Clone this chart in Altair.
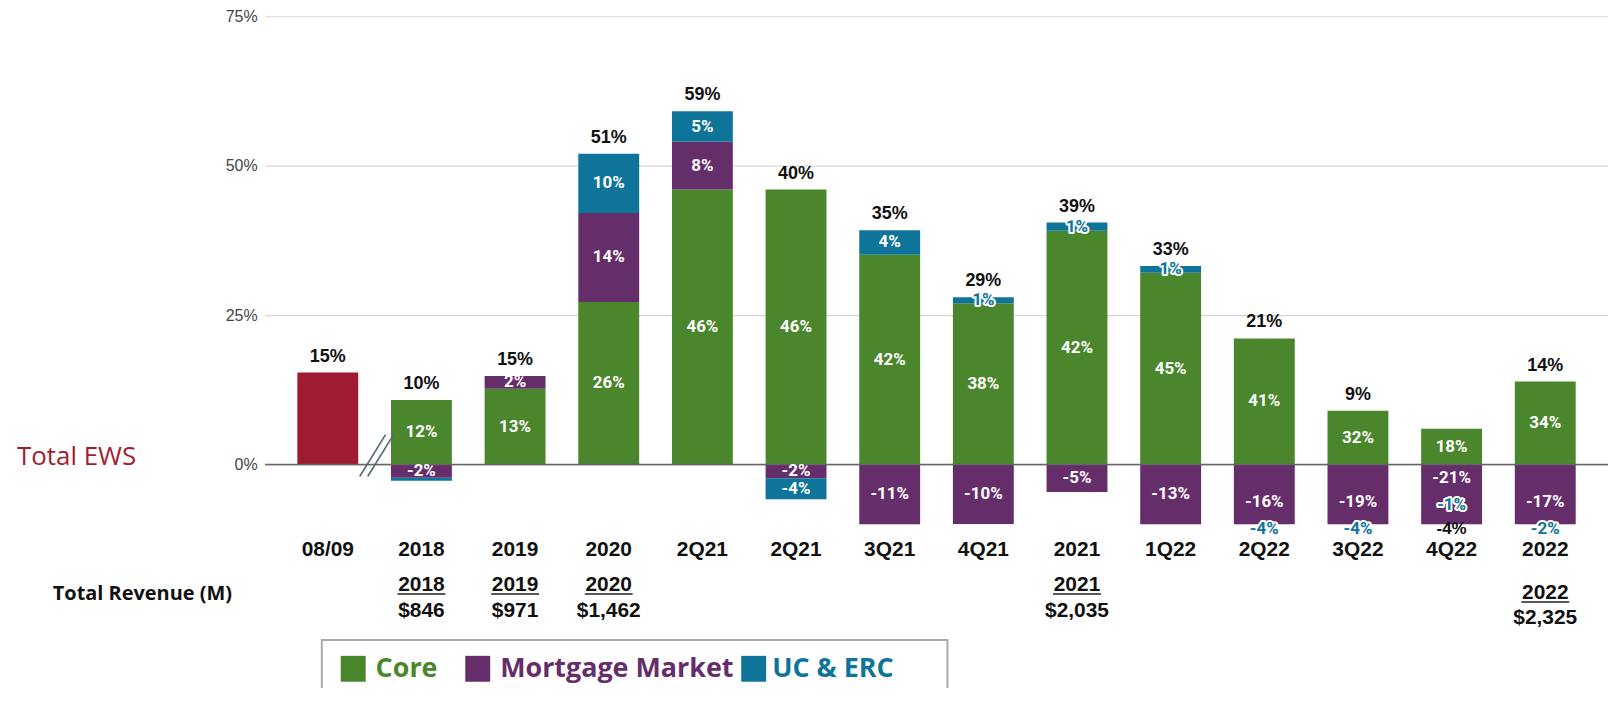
import altair as alt
import pandas as pd

# ---------------- data ----------------
categories = ["08/09", "2018", "2019", "2020", "2Q21", "2Q21", "3Q21", "4Q21",
              "2021", "1Q22", "2Q22", "3Q22", "4Q22", "2022"]

# drawn bar segments (percentage points, as drawn in the reference)
ews_drawn      = [15.4, 0, 0, 0, 0, 0, 0, 0, 0, 0, 0, 0, 0, 0]
core_drawn     = [0, 10.8, 12.7, 27.2, 46.0, 46.0, 35.1, 27.0, 39.1, 32.1, 21.1, 9.0, 6.0, 13.9]
mortgage_drawn = [0, -2.2, 2.1, 14.9, 8.0, -2.3, -11, -10, -4.6, -13, -16, -19, -21, -17]
uc_drawn       = [0, -0.5, 0, 9.9, 5.1, -3.5, 4.1, 1.0, 1.4, 1.1, -4, -4, -1, -2]

# printed labels
core_label     = [None, 12, 13, 26, 46, 46, 42, 38, 42, 45, 41, 32, 18, 34]
mortgage_label = [None, -2, 2, 14, 8, -2, -11, -10, -5, -13, -16, -19, -21, -17]
uc_label       = [None, None, None, 10, 5, -4, 4, 1, 1, 1, -4, -4, -1, -2]
total_label    = [15, 10, 15, 51, 59, 40, 35, 29, 39, 33, 21, 9, -4, 14]

revenue_idx    = [1, 2, 3, 8, 13]
revenue_year   = ["2018", "2019", "2020", "2021", "2022"]
revenue_amount = ["$846", "$971", "$1,462", "$2,035", "$2,325"]

series_names  = ["Total EWS", "Core", "Mortgage Market", "UC & ERC"]
series_colors = ["#9E1B32", "#4A862C", "#652D6A", "#0F7499"]

# ---------------- build tables ----------------
FLOOR = -10.0
bars, labels, totals_up, totals_down = [], [], [], []
for i in range(len(categories)):
    if ews_drawn[i]:
        bars.append(dict(idx=i, series="Total EWS", y0=0.0, y1=ews_drawn[i]))
    pos = neg = 0.0
    seg = {}
    for name, vals in (("Core", core_drawn), ("Mortgage Market", mortgage_drawn), ("UC & ERC", uc_drawn)):
        v = vals[i]
        if v == 0:
            continue
        if v > 0:
            a, b = pos, pos + v
            pos = b
        else:
            a, b = neg, neg + v
            neg = b
        seg[name] = (a, b)
        bars.append(dict(idx=i, series=name, y0=a, y1=b))
    top = max(pos, ews_drawn[i])

    lab = {}
    hidden_below = False
    for name, lbls in (("Core", core_label), ("Mortgage Market", mortgage_label), ("UC & ERC", uc_label)):
        v = lbls[i]
        if v is None:
            continue
        a, b = seg[name]
        lo, hi = min(a, b), max(a, b)
        vlo, vhi = max(lo, FLOOR), max(hi, FLOOR)
        if vhi - vlo <= 0:
            lab[name] = [FLOOR - 0.7, "halo", v]
            hidden_below = True
        else:
            style = "white" if (name != "UC & ERC" or vhi - vlo >= 2.5) else "halo"
            lab[name] = [(vlo + vhi) / 2, style, v]
    if total_label[i] < 0:
        totals_down.append(dict(idx=i, ly=FLOOR - 0.8, text=f"{total_label[i]}%"))
        if "Mortgage Market" in lab:
            lab["Mortgage Market"][0] = FLOOR * 0.23
        if "UC & ERC" in lab:
            lab["UC & ERC"][0] = FLOOR * 0.68
    else:
        totals_up.append(dict(idx=i, top=top, text=f"{total_label[i]}%"))
        if hidden_below and "Mortgage Market" in lab:
            lab["Mortgage Market"][0] -= 1.3
    for name, (ly, style, v) in lab.items():
        labels.append(dict(idx=i, ly=ly, style=style, text=f"{v}%"))

bars_df = pd.DataFrame(bars)
labels_df = pd.DataFrame(labels)
up_df = pd.DataFrame(totals_up)
down_df = pd.DataFrame(totals_down)
rev_df = pd.DataFrame(dict(idx=revenue_idx, year=revenue_year, amount=revenue_amount))

# ---------------- scales & axes (identical in every layer) ----------------
label_array = "[" + ",".join(f"'{c}'" for c in categories) + "]"
xscale = alt.Scale(domain=list(range(len(categories))), paddingInner=0.35, paddingOuter=0.345)
xaxis = alt.Axis(title=None, labelExpr=f"{label_array}[datum.value]", labelAngle=0,
                 domain=False, ticks=False, labelPadding=25, labelBaseline="middle",
                 labelFont="Liberation Sans", labelFontWeight="bold", labelFontSize=21,
                 labelColor="#111111", grid=False)
yscale = alt.Scale(domain=[-10, 75], nice=False, zero=False)
yaxis = alt.Axis(title=None, values=[0, 25, 50, 75], labelExpr="datum.value + '%'",
                 domain=False, ticks=False, labelPadding=8, labelFont="Liberation Sans",
                 labelFontSize=16, labelColor="#444444", gridColor="#d6d6d6", gridWidth=1.2)


def X():
    return alt.X("idx:O", scale=xscale, axis=xaxis)


def Y(field):
    return alt.Y(field, scale=yscale, axis=yaxis)


one = pd.DataFrame({"a": [0]})

bar_layer = alt.Chart(bars_df).mark_bar(clip=True).encode(
    x=X(), y=Y("y0:Q"), y2="y1:Q",
    color=alt.Color("series:N", scale=alt.Scale(domain=series_names, range=series_colors), legend=None))

zero_layer = alt.Chart(pd.DataFrame({"y0": [0.0]})).mark_rule(color="#666666", strokeWidth=1.6).encode(
    y=Y("y0:Q"))

inner_font = dict(font="Roboto", fontWeight="bold", fontSize=17, baseline="middle", align="center")
white_labels = alt.Chart(labels_df).transform_filter("datum.style == 'white'").mark_text(
    color="white", **inner_font).encode(x=X(), y=Y("ly:Q"), text="text:N")
halo_back = alt.Chart(labels_df).transform_filter("datum.style == 'halo'").mark_text(
    color="white", stroke="white", strokeWidth=4, strokeJoin="round", **inner_font).encode(
    x=X(), y=Y("ly:Q"), text="text:N")
halo_front = alt.Chart(labels_df).transform_filter("datum.style == 'halo'").mark_text(
    color="#0F7499", **inner_font).encode(x=X(), y=Y("ly:Q"), text="text:N")

total_font = dict(font="Liberation Sans", fontWeight="bold", fontSize=18, baseline="middle",
                  align="center", color="#111111")
totals_up_layer = alt.Chart(up_df).mark_text(dy=-16, **total_font).encode(
    x=X(), y=Y("top:Q"), text="text:N")
totals_down_layer = alt.Chart(down_df).mark_text(font="Liberation Sans", fontWeight="bold",
                                                 fontSize=17, baseline="middle", align="center",
                                                 color="#111111").encode(
    x=X(), y=Y("ly:Q"), text="text:N")

# revenue annotations under the axis
rev_font = dict(font="Liberation Sans", fontWeight="bold", fontSize=21, baseline="middle",
                align="center", color="#111111")


def rev_layers(filt, y_year, y_amt):
    base = alt.Chart(rev_df).transform_filter(filt)
    return [
        base.mark_text(**rev_font).encode(x=X(), y=alt.value(y_year), text="year:N"),
        base.mark_tick(orient="horizontal", size=48, thickness=2, color="#111111").encode(
            x=X(), y=alt.value(y_year + 9)),
        base.mark_text(**rev_font).encode(x=X(), y=alt.value(y_amt), text="amount:N"),
    ]


rev_main = rev_layers("datum.idx != 13", 571, 597)
rev_last = rev_layers("datum.idx == 13", 579, 604)

ews_text = alt.Chart(one).mark_text(text="Total EWS", font="Open Sans", fontSize=26, align="left",
                                    baseline="middle", color="#A51C30").encode(
    x=alt.value(-249), y=alt.value(442))
rev_title = alt.Chart(one).mark_text(text="Total Revenue (M)", font="Open Sans", fontWeight="bold",
                                     fontSize=20, align="left", baseline="middle", color="#111111").encode(
    x=alt.value(-213), y=alt.value(580))

break1 = alt.Chart(one).mark_rule(color="#56677d", strokeWidth=1.6).encode(
    x=alt.value(95), x2=alt.value(121), y=alt.value(462), y2=alt.value(420))
break2 = alt.Chart(one).mark_rule(color="#56677d", strokeWidth=1.6).encode(
    x=alt.value(103), x2=alt.value(129), y=alt.value(462), y2=alt.value(420))

# legend drawn by hand
legend_box = alt.Chart(one).mark_rect(fillOpacity=0, stroke="#a9a9a9", strokeWidth=2).encode(
    x=alt.value(57), x2=alt.value(685), y=alt.value(626), y2=alt.value(720))
legend_items = []
for name, color, sx, tx in (("Core", "#4A862C", 76, 111),
                            ("Mortgage Market", "#652D6A", 201, 236),
                            ("UC & ERC", "#0F7499", 478, 509)):
    legend_items.append(alt.Chart(one).mark_rect(color=color).encode(
        x=alt.value(sx), x2=alt.value(sx + 25), y=alt.value(642), y2=alt.value(668)))
    legend_items.append(alt.Chart(one).mark_text(text=name, font="Open Sans", fontWeight="bold",
                                                 fontSize=27, align="left", baseline="middle",
                                                 color=color).encode(
        x=alt.value(tx), y=alt.value(655)))

chart = alt.layer(
    bar_layer, zero_layer, white_labels, halo_back, halo_front,
    totals_up_layer, totals_down_layer, *rev_main, *rev_last,
    ews_text, rev_title, break1, break2, legend_box, *legend_items
).properties(
    width=1348, height=510,
    autosize=alt.AutoSizeParams(type="none"),
    padding={"left": 258, "top": 7, "right": 0, "bottom": 163},
).configure_view(stroke=None)

chart.save("out.html", embed_options={"renderer": "svg", "actions": False})
